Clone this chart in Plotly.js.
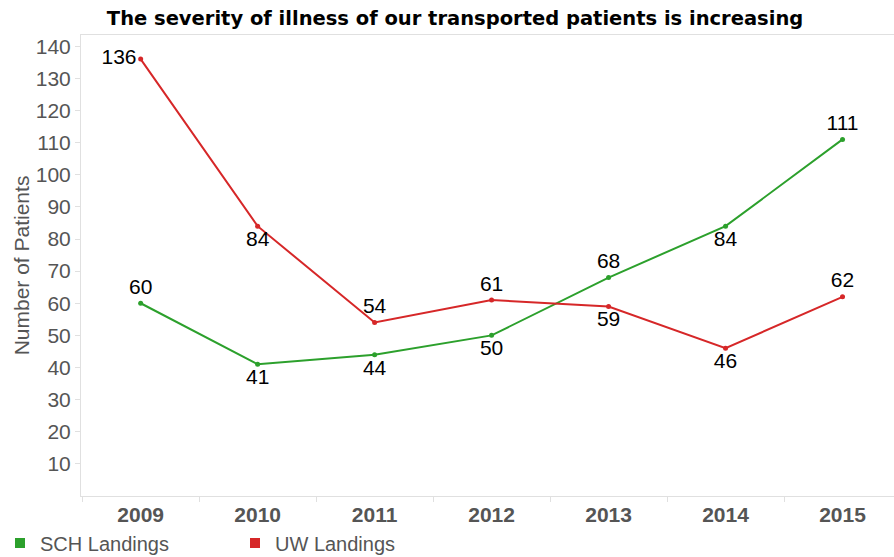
<!DOCTYPE html>
<html><head><meta charset="utf-8">
<script src="https://cdn.plot.ly/plotly-3.0.1.min.js"></script>
<style>html,body{margin:0;padding:0;background:#fff}#c{width:894px;height:557px}</style>
</head><body><div id="c"></div>
<script>
const years = ["2009","2010","2011","2012","2013","2014","2015"];
const schLandings = [60, 41, 44, 50, 68, 84, 111];
const uwLandings = [136, 84, 54, 61, 59, 46, 62];
const schPos = ["top center","bottom center","bottom center","bottom center","top center","bottom center","top center"];
const uwPos = ["middle left","bottom center","top center","top center","bottom center","bottom center","top center"];
const yTicks = [10,20,30,40,50,60,70,80,90,100,110,120,130,140];
const green = "#2ca02c", red = "#d62728";
const lblFont = {family:"Liberation Sans, Arial, sans-serif", size:21, color:"#000"};
const traces = [
  {x: years, y: schLandings, mode:"lines+markers+text", text: schLandings.map(String), textposition: schPos,
   textfont: lblFont, line:{color:green, width:2}, marker:{color:green, size:5}, showlegend:false, cliponaxis:false},
  {x: years, y: uwLandings, mode:"lines+markers+text", text: uwLandings.map(String), textposition: uwPos,
   textfont: lblFont, line:{color:red, width:2}, marker:{color:red, size:5}, showlegend:false, cliponaxis:false},
  {x:[null], y:[null], mode:"markers", name:"SCH Landings", marker:{symbol:"square", color:green, size:10}},
  {x:[null], y:[null], mode:"markers", name:"UW Landings", marker:{symbol:"square", color:red, size:10}}
];
const layout = {
  width:894, height:557,
  margin:{l:81, r:0, t:35, b:61, autoexpand:false},
  paper_bgcolor:"#fff", plot_bgcolor:"#fff",
  title:{text:"<b>The severity of illness of our transported patients is increasing</b>",
    font:{family:"DejaVu Sans, sans-serif", size:19.5, color:"#000"},
    xref:"container", x:0.509, xanchor:"center", yref:"container", y:0.968, yanchor:"middle"},
  xaxis:{type:"category", range:[-0.51, 6.44], showgrid:false, zeroline:false,
    showline:true, linecolor:"#e0e0e0", linewidth:1, mirror:true,
    ticks:"outside", tickson:"boundaries", ticklen:5, tickcolor:"#e0e0e0",
    tickfont:{family:"Liberation Sans, Arial, sans-serif", size:21, color:"#555", weight:"bold"}},
  yaxis:{range:[0, 143.5], tickvals:yTicks, showgrid:false, zeroline:false,
    showline:true, linecolor:"#e0e0e0", linewidth:1,
    ticks:"outside", ticklen:5, tickcolor:"#e0e0e0",
    tickfont:{family:"Liberation Sans, Arial, sans-serif", size:21, color:"#555"},
    title:{text:"Number of Patients", font:{family:"Liberation Sans, Arial, sans-serif", size:21, color:"#555"}, standoff:0}},
  legend:{orientation:"h", xref:"container", x:0.0, xanchor:"left", yref:"container", y:0.025, yanchor:"middle",
    font:{family:"Liberation Sans, Arial, sans-serif", size:20, color:"#555"},
    itemwidth:30, tracegroupgap:0, entrywidth:190},
  showlegend:true
};
Plotly.newPlot("c", traces, layout, {displayModeBar:false, staticPlot:true});
</script></body></html>
